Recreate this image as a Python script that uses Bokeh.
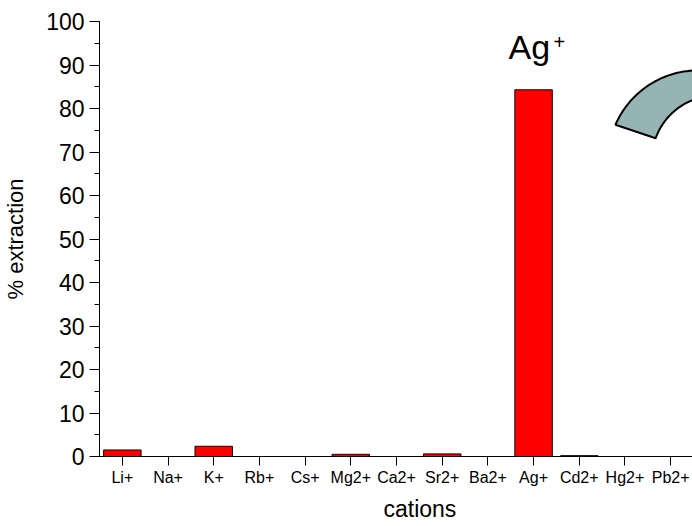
import numpy as np
from bokeh.plotting import figure
from bokeh.models import Range1d, FixedTicker, SingleIntervalTicker, ColumnDataSource, Title
from bokeh.core.properties import value
from bokeh.embed import file_html
from bokeh.resources import INLINE

# ---- data ----
cations = ["Li+", "Na+", "K+", "Rb+", "Cs+", "Mg2+", "Ca2+", "Sr2+", "Ba2+", "Ag+", "Cd2+", "Hg2+", "Pb2+"]
extraction = [1.5, 0.0, 2.35, 0.0, 0.0, 0.5, 0.0, 0.6, 0.0, 84.3, 0.2, 0.0, 0.0]
y_ticks_interval = 10

FONT = "Liberation Sans"

positions = list(range(1, len(cations) + 1))

p = figure(frame_width=594, frame_height=435, output_backend="svg", toolbar_location=None,
           x_range=Range1d(0.5, len(cations) + 0.5), y_range=Range1d(0, 100),
           min_border_left=94, min_border_right=0, min_border_top=21, min_border_bottom=70)
p.outline_line_color = None
p.xgrid.visible = False
p.ygrid.visible = False
p.background_fill_color = "white"
p.border_fill_color = "white"

src = ColumnDataSource(dict(x=positions, top=extraction))
p.vbar(x="x", top="top", bottom=0, width=0.82, source=src,
       fill_color="#ff0000", line_color="#1a0000", line_width=1)

# Ag+ label
ag_idx = cations.index("Ag+") + 1
p.text(x=[ag_idx], y=[94.2], text=["Ag"], x_offset=-25,
       text_font=value(FONT), text_font_size="34px", text_baseline="alphabetic",
       text_align="left", text_color="black")
p.text(x=[ag_idx], y=[94.2], text=["+"], x_offset=20, y_offset=-5,
       text_font=value(FONT), text_font_size="20px", text_baseline="alphabetic",
       text_align="left", text_color="black")

# decorative curved arrow body (screen px -> data)
x0_px, px_per_x = 98.0, 45.7
y0_px, px_per_y = 456.0, 4.35
def to_data(px, py):
    return 0.5 + (px - x0_px) / px_per_x, (y0_px - py) / px_per_y
oc, orad = (696.8, 160.1), 90.2
ic, irad = (714.8, 159.4), 64.3
ta = np.radians(np.linspace(-156.6, -40, 60))
tb = np.radians(np.linspace(-40, -160.3, 60))
pxs = list(oc[0] + orad * np.cos(ta)) + list(ic[0] + irad * np.cos(tb))
pys = list(oc[1] + orad * np.sin(ta)) + list(ic[1] + irad * np.sin(tb))
dx, dy = zip(*[to_data(a, b) for a, b in zip(pxs, pys)])
p.patch(list(dx), list(dy), fill_color="#97b4b5", line_color="black", line_width=2)

# x axis title (original axis extends past the visible area, so the title sits right of centre)
p.add_layout(Title(text="cations", align="left", offset=284, text_font=FONT,
                   text_font_size="23px", text_font_style="normal", text_color="black",
                   standoff=11), "below")

# axes
p.xaxis.ticker = FixedTicker(ticks=positions)
p.xaxis.major_label_overrides = {i: c for i, c in zip(positions, cations)}
p.xaxis.minor_tick_line_color = None
p.xaxis.major_tick_out = 9
p.xaxis.major_tick_in = 0
p.xaxis.major_label_text_font = FONT
p.xaxis.major_label_text_font_size = "16px"
p.xaxis.major_label_standoff = 3

p.yaxis.ticker = SingleIntervalTicker(interval=y_ticks_interval, num_minor_ticks=2)
p.yaxis.major_tick_out = 10
p.yaxis.major_tick_in = 0
p.yaxis.minor_tick_out = 5
p.yaxis.minor_tick_in = 0
p.yaxis.major_label_text_font = FONT
p.yaxis.major_label_text_font_size = "23px"
p.yaxis.major_label_standoff = 5
p.yaxis.axis_label = "% extraction"
p.yaxis.axis_label_text_font = FONT
p.yaxis.axis_label_text_font_size = "22px"
p.yaxis.axis_label_text_font_style = "normal"
p.yaxis.axis_label_standoff = 15

for ax in (p.xaxis, p.yaxis):
    ax.axis_line_color = "black"
    ax.major_tick_line_color = "black"
    ax.major_label_text_color = "black"
    ax.axis_label_text_color = "black"

open("out.html", "w").write(file_html(p, INLINE))
